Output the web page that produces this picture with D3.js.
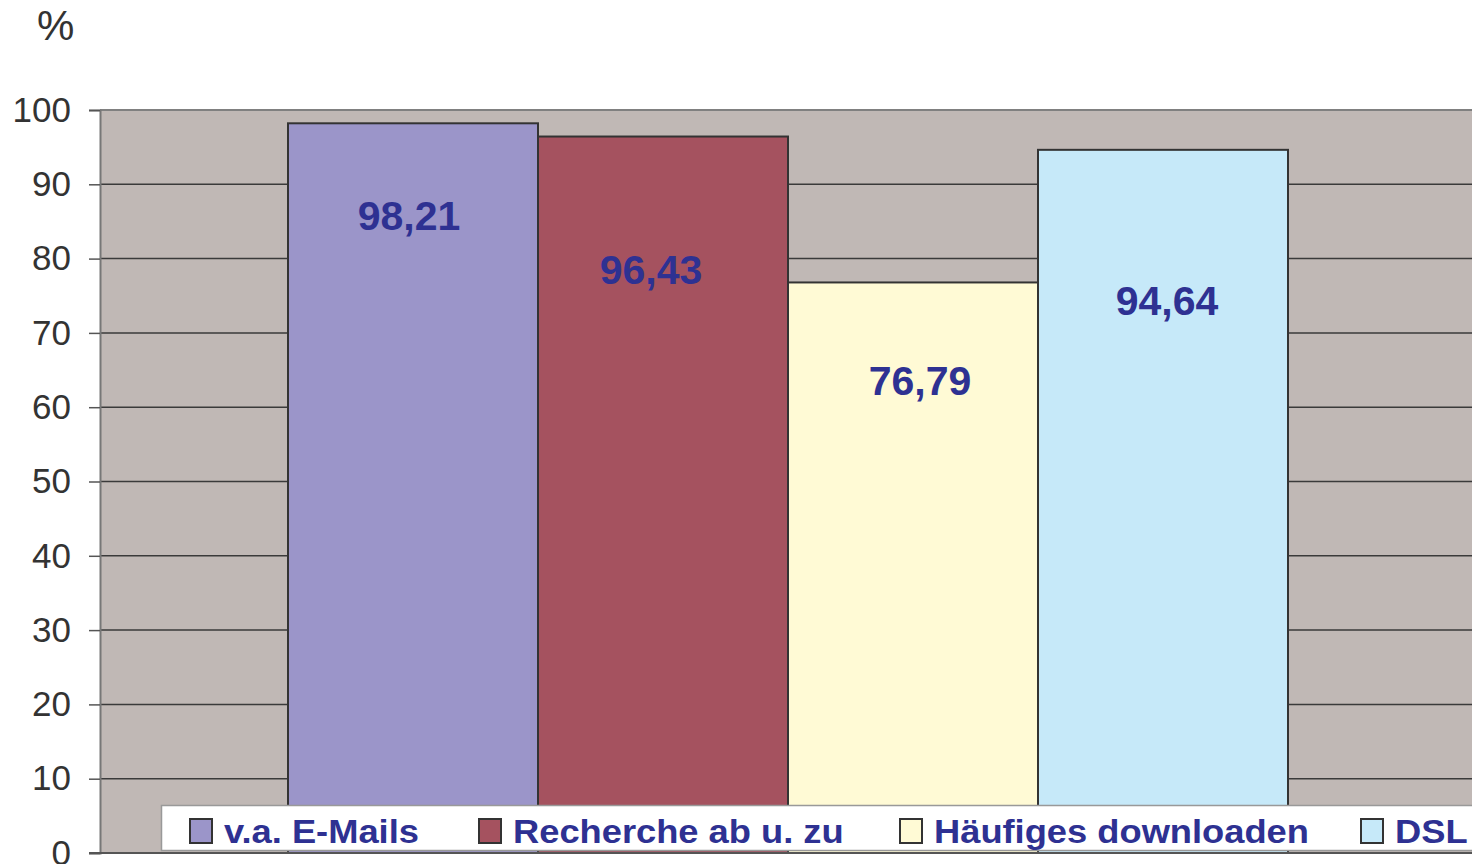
<!DOCTYPE html>
<html>
<head>
<meta charset="utf-8">
<script src="https://cdn.jsdelivr.net/npm/d3@7"></script>
<style>
  body { margin: 0; background: #fff; }
  svg { display: block; font-family: "Liberation Sans", Arial, sans-serif; }
</style>
</head>
<body>
<script>
// data //
const categories = ["v.a. E-Mails", "Recherche ab u. zu", "Häufiges downloaden", "DSL"];
const values = [98.21, 96.43, 76.79, 94.64];
const valueLabels = ["98,21", "96,43", "76,79", "94,64"];
const yTicks = [0, 10, 20, 30, 40, 50, 60, 70, 80, 90, 100];
const colors = ["#9b95c9", "#a5525f", "#fffad5", "#c6e9f9"];

const width = 1472, height = 864;
const plot = { left: 100, right: 1476, top: 110, bottom: 853 };
const gap = 188;

const svg = d3.select("body").append("svg")
  .attr("width", width)
  .attr("height", height);

// scales //
const y = d3.scaleLinear()
  .domain([0, 100])
  .range([plot.bottom, plot.top]);

const x = d3.scaleBand()
  .domain(categories)
  .range([plot.left + gap, plot.right - gap])
  .padding(0);

// plot area background
svg.append("rect")
  .attr("x", plot.left)
  .attr("y", plot.top)
  .attr("width", plot.right - plot.left)
  .attr("height", plot.bottom - plot.top)
  .attr("fill", "#c0b8b5");

// gridlines
svg.append("g")
  .selectAll("line")
  .data(yTicks.filter(d => d > 0 && d < 100))
  .enter().append("line")
  .attr("x1", plot.left)
  .attr("x2", plot.right)
  .attr("y1", d => y(d))
  .attr("y2", d => y(d))
  .attr("stroke", "#3a3a3a")
  .attr("stroke-width", 1.5);

// top border
svg.append("line")
  .attr("x1", plot.left).attr("x2", plot.right)
  .attr("y1", plot.top).attr("y2", plot.top)
  .attr("stroke", "#808080")
  .attr("stroke-width", 2);

// bars
svg.append("g")
  .selectAll("rect")
  .data(values)
  .enter().append("rect")
  .attr("x", (d, i) => x(categories[i]))
  .attr("y", d => y(d))
  .attr("width", x.bandwidth())
  .attr("height", d => y(0) - y(d))
  .attr("fill", (d, i) => colors[i])
  .attr("stroke", "#333")
  .attr("stroke-width", 2);

// y axis
const yAxis = d3.axisLeft(y)
  .tickValues(yTicks)
  .tickSize(11)
  .tickPadding(18)
  .tickFormat(d3.format("d"));

const gy = svg.append("g")
  .attr("transform", "translate(" + plot.left + ",0)")
  .call(yAxis);

gy.select(".domain").attr("stroke", "#777").attr("stroke-width", 2);
gy.selectAll(".tick line").attr("stroke", "#555").attr("stroke-width", 1.5);
gy.selectAll(".tick text")
  .attr("fill", "#333")
  .style("font-size", "35px")
  .style("font-family", "'Liberation Sans', Arial, sans-serif");

// bottom axis line
svg.append("line")
  .attr("x1", plot.left - 11).attr("x2", plot.right)
  .attr("y1", plot.bottom).attr("y2", plot.bottom)
  .attr("stroke", "#555")
  .attr("stroke-width", 2);

// unit label
svg.append("text")
  .attr("x", 37)
  .attr("y", 40)
  .attr("fill", "#333")
  .style("font-size", "42px")
  .text("%");

// value labels (manual placement like the original)
const labelDx = [-4, -12, 7, 4];
const labelDy = [107, 147, 113, 165];

svg.append("g")
  .selectAll("text")
  .data(values)
  .enter().append("text")
  .attr("x", (d, i) => x(categories[i]) + x.bandwidth() / 2 + labelDx[i])
  .attr("y", (d, i) => y(d) + labelDy[i])
  .attr("text-anchor", "middle")
  .attr("fill", "#2e3192")
  .style("font-size", "41px")
  .style("font-weight", "bold")
  .text((d, i) => valueLabels[i]);

// legend
const legend = svg.append("g");

legend.append("rect")
  .attr("x", 161.5)
  .attr("y", 805.5)
  .attr("width", 1400)
  .attr("height", 45)
  .attr("fill", "#fff")
  .attr("stroke", "#999")
  .attr("stroke-width", 1.5);

// legend item start positions, as laid out in the original
const legendX = [190, 479, 900, 1361];
const stretch = 1.1;

categories.forEach((c, i) => {
  legend.append("rect")
    .attr("x", legendX[i])
    .attr("y", 819)
    .attr("width", 22)
    .attr("height", 24)
    .attr("fill", colors[i])
    .attr("stroke", "#333")
    .attr("stroke-width", 2);

  legend.append("text")
    .attr("transform", "translate(" + (legendX[i] + 34) + ",843) scale(" + stretch + ",1)")
    .attr("fill", "#2e3192")
    .style("font-size", "33px")
    .style("font-weight", "bold")
    .text(c);
});
</script>
</body>
</html>
